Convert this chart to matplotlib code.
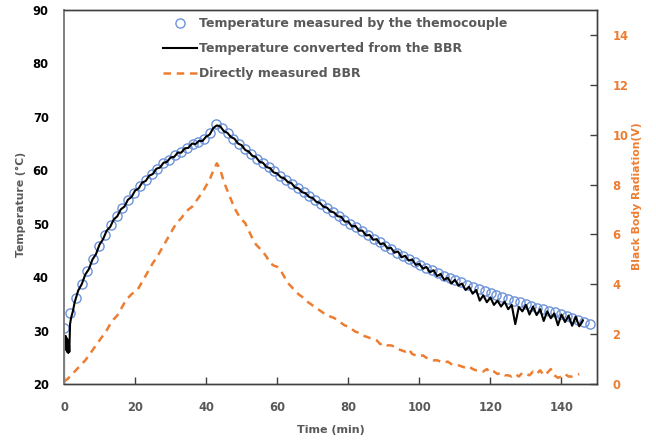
import matplotlib
matplotlib.use('Agg')
import matplotlib.pyplot as plt
import numpy as np

# thermocouple readings (circles), logged at a fixed interval over 0-148 min
tc_temp = [30.5, 33.3, 36.1, 38.7, 41.1, 43.4, 45.8, 47.9, 49.8, 51.4,
           53.0, 54.4, 55.8, 57.1, 58.2, 59.3, 60.3, 61.3, 62.0, 62.8,
           63.5, 64.2, 64.9, 65.3, 65.9, 67.0, 68.7, 67.9, 66.9, 65.9,
           65.0, 64.0, 63.0, 62.2, 61.4, 60.6, 59.8, 59.0, 58.2, 57.4,
           56.6, 55.9, 55.1, 54.4, 53.7, 52.9, 52.2, 51.4, 50.7, 50.0,
           49.3, 48.6, 47.9, 47.2, 46.5, 45.9, 45.3, 44.6, 44.0, 43.4,
           42.8, 42.3, 41.8, 41.3, 40.8, 40.3, 39.9, 39.4, 39.0, 38.6,
           38.2, 37.8, 37.4, 37.0, 36.6, 36.3, 35.9, 35.6, 35.3, 35.0,
           34.6, 34.3, 34.0, 33.7, 33.4, 33.1, 32.8, 32.4, 32.0, 31.6,
           31.2]
tc_end = 148
tc_time = np.linspace(0, tc_end, len(tc_temp))

# temperature converted from the BBR signal
bbr_time = [0, 0.02, 0.15, 0.3, 0.45, 0.6, 0.75, 0.9, 1.05, 1.2, 1.35, 1.5,
            1.7, 2.0, 2.5] + list(range(3, 147))
bbr_temp = [20.0, 28.0, 28.8, 26.5, 29.0, 26.4, 28.6, 26.0, 28.3, 25.8, 28.0, 26.0,
            31.2, 32.4, 33.6,
            35.3, 37.5, 38.7, 40.5, 41.5, 43.3, 44.3, 46.1, 47.1, 48.7,
            49.4, 50.8, 51.4, 52.7, 53.2, 54.5, 55.0, 56.2, 56.6, 57.7,
            58.0, 59.0, 59.3, 60.3, 60.5, 61.4, 61.6, 62.4, 62.5, 63.3,
            63.3, 64.1, 64.2, 65.0, 64.9, 65.5, 65.5, 66.3, 66.7, 67.9,
            68.4, 68.2, 67.3, 67.0, 66.2, 65.9, 65.0, 64.7, 63.8, 63.5,
            62.7, 62.5, 61.6, 61.4, 60.6, 60.4, 59.6, 59.4, 58.7, 58.5,
            57.8, 57.6, 56.8, 56.6, 55.9, 55.7, 55.0, 54.8, 54.1, 53.9,
            53.2, 53.0, 52.3, 52.1, 51.4, 51.3, 50.4, 50.4, 49.5, 49.6,
            48.7, 48.7, 47.8, 47.9, 47.0, 47.1, 46.2, 46.3, 45.4, 45.5,
            44.6, 44.8, 43.7, 44.0, 43.1, 43.3, 42.3, 42.5, 41.6, 41.9,
            40.9, 41.3, 40.2, 40.6, 39.5, 39.9, 38.8, 39.5, 38.4, 38.8,
            37.6, 38.2, 36.9, 37.6, 35.6, 36.6, 35.3, 36.2, 34.8, 35.6,
            34.5, 35.4, 34.0, 34.8, 31.2, 34.4, 33.6, 34.8, 33.0, 34.5,
            32.9, 34.0, 31.8, 33.6, 32.3, 33.2, 31.0, 33.0, 31.6, 32.8,
            30.9, 32.6, 30.8, 31.9]

# directly measured black body radiation (V), one value per minute
bbr_volt = [0.10, 0.20, 0.35, 0.50, 0.65, 0.80, 0.95, 1.15, 1.35, 1.55,
            1.75, 1.95, 2.15, 2.40, 2.60, 2.75, 3.00, 3.25, 3.45, 3.60,
            3.70, 3.85, 4.10, 4.35, 4.60, 4.85, 5.05, 5.30, 5.55, 5.80,
            6.05, 6.30, 6.50, 6.65, 6.85, 7.00, 7.10, 7.30, 7.50, 7.70,
            7.95, 8.20, 8.55, 8.85, 8.60, 8.10, 7.75, 7.40, 7.05, 6.80,
            6.60, 6.45, 6.15, 5.85, 5.60, 5.45, 5.30, 5.10, 4.85, 4.75,
            4.70, 4.55, 4.30, 4.05, 3.90, 3.75, 3.60, 3.50, 3.35, 3.25,
            3.15, 3.05, 2.95, 2.85, 2.80, 2.70, 2.65, 2.55, 2.45, 2.35,
            2.30, 2.20, 2.10, 2.05, 1.95, 1.90, 1.85, 1.80, 1.75, 1.60,
            1.65, 1.55, 1.55, 1.50, 1.40, 1.35, 1.30, 1.40, 1.20, 1.15,
            1.10, 1.15, 1.05, 1.00, 0.95, 0.95, 0.90, 0.85, 0.90, 0.80,
            0.75, 0.75, 0.70, 0.65, 0.70, 0.60, 0.55, 0.55, 0.50, 0.60,
            0.45, 0.50, 0.40, 0.45, 0.35, 0.35, 0.30, 0.40, 0.30, 0.45,
            0.40, 0.35, 0.50, 0.40, 0.55, 0.35, 0.45, 0.60, 0.35, 0.25,
            0.30, 0.40, 0.30, 0.30, 0.35, 0.40]
volt_time = list(range(len(bbr_volt)))

x_ticks = [0, 20, 40, 60, 80, 100, 120, 140]
y_ticks = [20, 30, 40, 50, 60, 70, 80, 90]
y2_ticks = [0, 2, 4, 6, 8, 10, 12, 14]

labels = ['Temperature measured by the themocouple',
          'Temperature converted from the BBR',
          'Directly measured BBR']

orange = '#ED7D31'
blue = '#6C93D9'
grey = '#595959'
dark = '#404040'

plt.rcParams['font.family'] = ['DejaVu Sans']

fig = plt.figure(figsize=(6.56, 4.43), dpi=100)
ax = fig.add_axes([64/656, 59/443, 533/656, 374/443])
ax2 = ax.twinx()

l1, = ax.plot(tc_time, tc_temp, linestyle='none', marker='o', markersize=6.6,
              markerfacecolor='none', markeredgecolor=blue, markeredgewidth=1.0)
l2, = ax.plot(bbr_time, bbr_temp, color='black', lw=1.5)
l3, = ax2.plot(volt_time, bbr_volt, color=orange, lw=1.8, dashes=(3.0, 2.3))

ax.set_xlim(0, 150)
ax.set_ylim(20, 90)
ax2.set_ylim(0, 15)
ax.set_xticks(x_ticks)
ax.set_yticks(y_ticks)
ax2.set_yticks(y2_ticks)

ax.tick_params(axis='x', direction='in', length=5, width=1, color=dark, pad=12,
               labelsize=8.3, labelcolor=grey)
ax.tick_params(axis='y', length=0, pad=11, labelsize=8.3, labelcolor='black')
ax2.tick_params(axis='y', direction='in', length=5, width=1, color=dark, pad=11,
                labelsize=8.3, labelcolor=orange)
for lab in ax.get_xticklabels() + ax.get_yticklabels() + ax2.get_yticklabels():
    lab.set_fontweight('bold')

for a in (ax, ax2):
    for side in ('top', 'right', 'bottom'):
        a.spines[side].set_color(dark)
        a.spines[side].set_linewidth(1.0)
    a.spines['left'].set_color('#808080')
    a.spines['left'].set_linewidth(1.3)

ax.set_xlabel('Time (min)', fontsize=8, fontweight='bold', color=grey)
ax.xaxis.set_label_coords(0.5, -0.11)
ax.set_ylabel('Temperature (°C)', fontsize=7.8, fontweight='bold', color=grey)
ax.yaxis.set_label_coords(-0.071, 0.479)
ax2.set_ylabel('Black Body Radiation(V)', fontsize=7.8, fontweight='bold', color=orange)
ax2.yaxis.set_label_coords(1.066, 0.503)

leg = fig.legend([l1, l2, l3], labels, loc='upper left',
                 bbox_to_anchor=(163/656, 1 - 17/443), frameon=False,
                 borderpad=0, borderaxespad=0, handlelength=2.7,
                 handletextpad=0.15, labelspacing=0.98,
                 prop={'weight': 'bold', 'size': 9})
for t in leg.get_texts():
    t.set_color(grey)

fig.savefig('out.png', dpi=100)
